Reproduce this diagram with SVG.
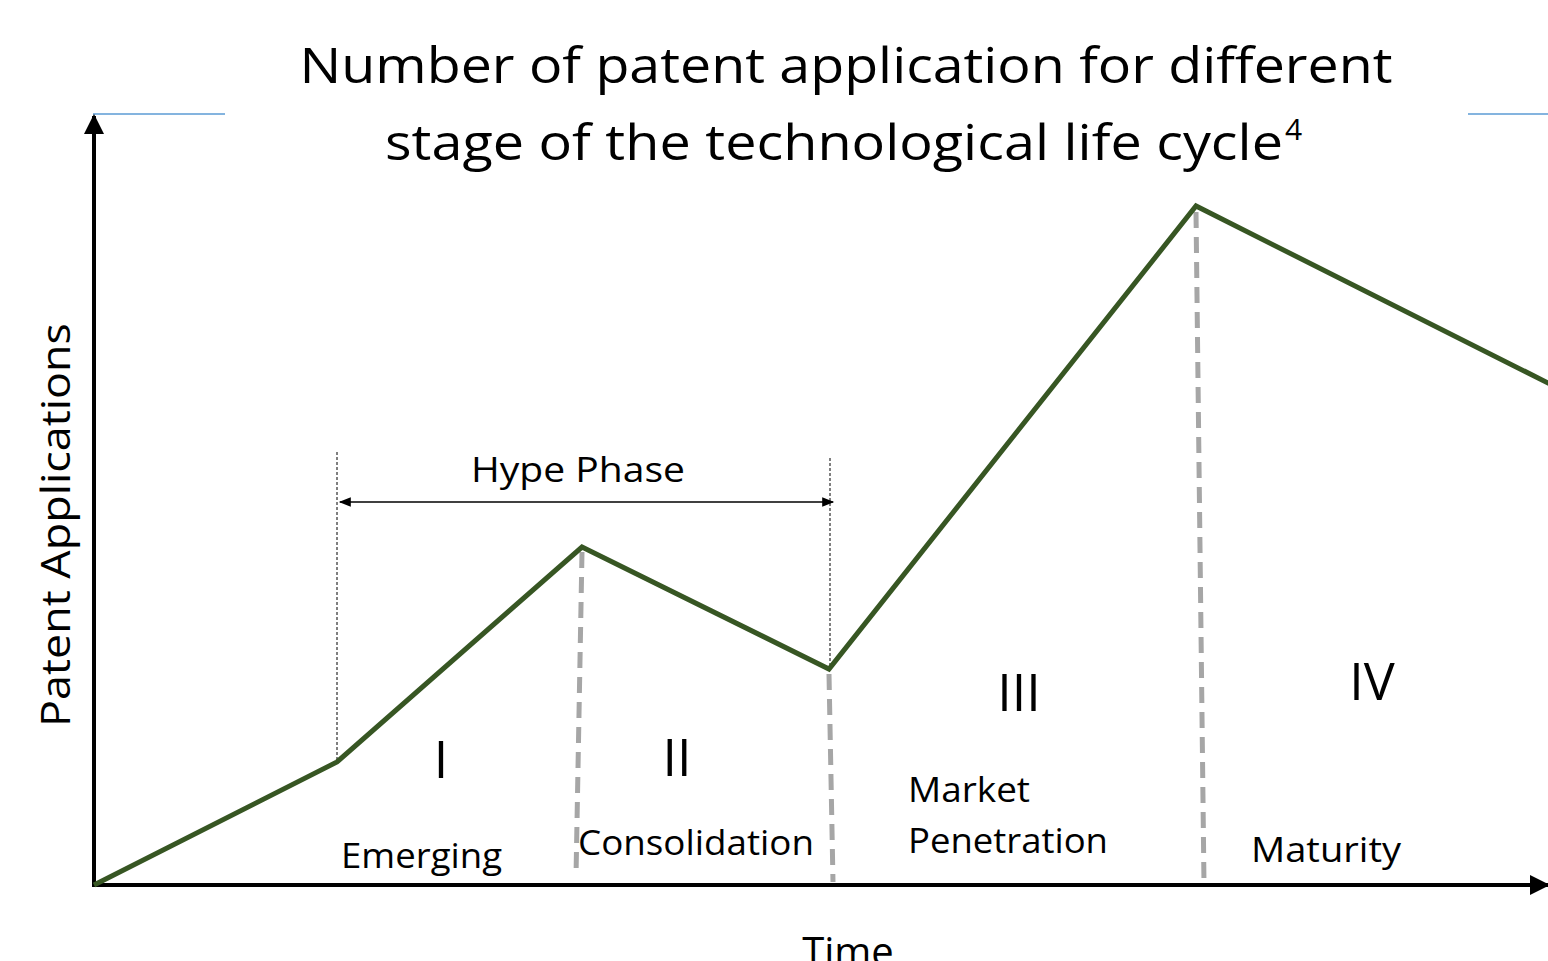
<svg xmlns="http://www.w3.org/2000/svg" width="1548" height="961" viewBox="0 0 1548 961">
<defs>
<style>
text{font-family:"Open Sans","Noto Sans",sans-serif;fill:#000}
.title{font-size:50px}
.lbl{font-size:34px}
.num{font-size:52px}
.axis{stroke:#000;stroke-width:4;fill:none}
.curve{stroke:#375623;stroke-width:5;fill:none;stroke-linejoin:miter}
.gray{stroke:#A6A6A6;stroke-width:5;stroke-dasharray:16 9;fill:none}
.dot{stroke:#000;stroke-width:1;stroke-dasharray:3 2;fill:none}
.blue{stroke:#5B9BD5;stroke-width:1.5}
</style>
<marker id="ah" viewBox="0 0 10 10" refX="9" refY="5" markerWidth="5" markerHeight="5" orient="auto" markerUnits="strokeWidth"><path d="M0,0L10,5L0,10z" fill="#000"/></marker>
<marker id="ah2" viewBox="0 0 10 10" refX="9" refY="5" markerWidth="20" markerHeight="12" orient="auto-start-reverse" markerUnits="userSpaceOnUse"><path d="M0,1L10,5L0,9z" fill="#000"/></marker>
</defs>
<g id="title">
<text class="title" x="846" y="83" text-anchor="middle" textLength="1093" lengthAdjust="spacingAndGlyphs">Number of patent application for different</text>
<text class="title" x="385" y="160" textLength="898" lengthAdjust="spacingAndGlyphs">stage of the technological life cycle</text>
<text x="1285" y="140" font-size="30">4</text>
</g>
<g id="decor">
<line class="blue" x1="93" y1="114" x2="225" y2="114"/>
<line class="blue" x1="1468" y1="114" x2="1548" y2="114"/>
</g>
<g id="connectors">
<line class="axis" x1="94" y1="887" x2="94" y2="116" marker-end="url(#ah)"/>
<line class="axis" x1="92" y1="885" x2="1548" y2="885" marker-end="url(#ah)"/>
<line class="gray" x1="582" y1="552" x2="576" y2="876"/>
<line class="gray" x1="829" y1="674" x2="833" y2="882"/>
<line class="gray" x1="1196" y1="212" x2="1204" y2="884"/>
<line class="dot" x1="337" y1="452" x2="337" y2="762"/>
<line class="dot" x1="830" y1="458" x2="830" y2="669"/>
<line stroke="#000" stroke-width="1.5" x1="340" y1="502" x2="833" y2="502" marker-start="url(#ah2)" marker-end="url(#ah2)"/>
<polyline class="curve" points="94,885 337,762 582,547 829,669 1196,206 1552,385"/>
</g>
<g id="ylabel"><text transform="translate(70,525) rotate(-90)" text-anchor="middle" style="font-size:40px" textLength="404" lengthAdjust="spacingAndGlyphs">Patent Applications</text></g>
<g id="xlabel"><text x="848" y="966" text-anchor="middle" style="font-size:40px">Time</text></g>
<g id="hype"><text class="lbl" x="578" y="482" text-anchor="middle" textLength="214" lengthAdjust="spacingAndGlyphs">Hype Phase</text></g>
<g id="stage1"><text class="num" x="441" y="778" text-anchor="middle">I</text><text class="lbl" x="341" y="868" textLength="161" lengthAdjust="spacingAndGlyphs">Emerging</text></g>
<g id="stage2"><text class="num" x="677" y="776" text-anchor="middle">II</text><text class="lbl" x="578" y="855" textLength="236" lengthAdjust="spacingAndGlyphs">Consolidation</text></g>
<g id="stage3"><text class="num" x="1019" y="711" text-anchor="middle">III</text><text class="lbl" x="908" y="802" textLength="122" lengthAdjust="spacingAndGlyphs">Market</text><text class="lbl" x="908" y="853" textLength="200" lengthAdjust="spacingAndGlyphs">Penetration</text></g>
<g id="stage4"><text class="num" x="1372" y="700" text-anchor="middle">IV</text><text class="lbl" x="1251" y="862" textLength="150" lengthAdjust="spacingAndGlyphs">Maturity</text></g>
</svg>
